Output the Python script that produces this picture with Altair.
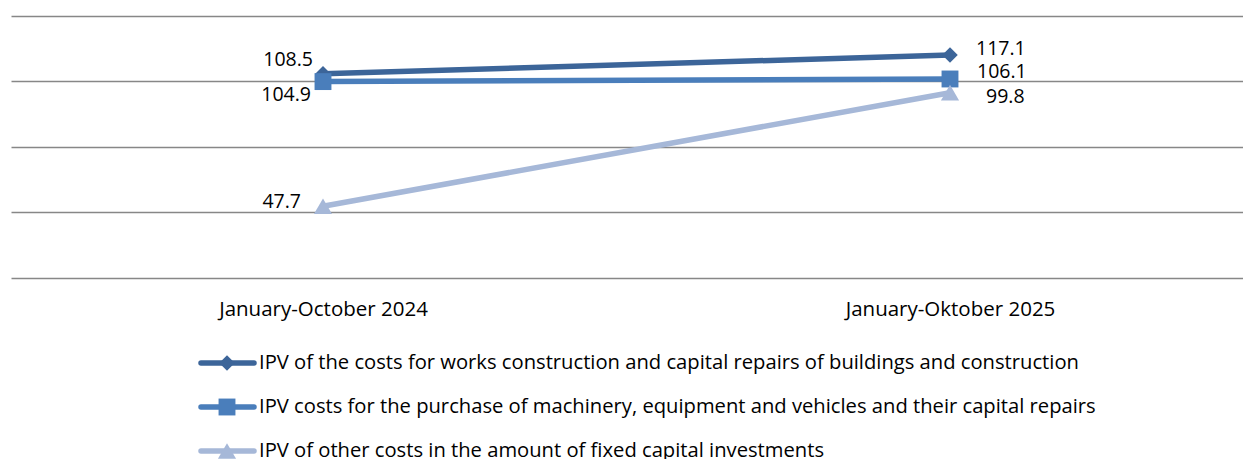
import altair as alt
import pandas as pd

categories = ["January-October 2024", "January-Oktober 2025"]
series_names = [
    "IPV of the costs for works construction and capital repairs of buildings and construction",
    "IPV costs for the purchase of machinery, equipment and vehicles and their capital repairs",
    "IPV of other costs in the amount of fixed capital investments",
]
works_values = [108.5, 117.1]
machinery_values = [104.9, 106.1]
other_values = [47.7, 99.8]

rows = []
for s_i, (name, vals) in enumerate(zip(series_names, [works_values, machinery_values, other_values])):
    for c_i, v in enumerate(vals):
        rows.append({"series": name, "s": s_i, "idx": c_i, "period": categories[c_i], "value": v})
df = pd.DataFrame(rows)
legend_df = pd.DataFrame({"series": series_names})

FONT = "Open Sans"
colors = ["#3C6599", "#4A7EBB", "#A6B8D8"]
shapes = ["diamond", "square", "triangle-up"]

color_scale = alt.Scale(domain=series_names, range=colors)
shape_scale = alt.Scale(domain=series_names, range=shapes)

label_expr = "[" + ",".join("'" + c + "'" for c in categories) + "][datum.value]"

x_enc = alt.X(
    "idx:Q",
    scale=alt.Scale(domain=[-0.4976, 1.4673], nice=False, zero=False),
    axis=alt.Axis(values=[0, 1], labelExpr=label_expr, grid=False, ticks=False, domain=False,
                  title=None, labelPadding=22, labelFontSize=20.5, labelFont=FONT, labelLimit=0,
                  labelColor="black", labelFlush=False, labelOverlap=False),
)
y_enc = alt.Y(
    "value:Q",
    scale=alt.Scale(domain=[15, 135], nice=False, zero=False),
    axis=alt.Axis(values=[15, 45, 75, 105, 135], labels=False, ticks=False, domain=False,
                  title=None, grid=True, gridColor="#878787", gridWidth=1.6),
)

base = alt.Chart(df).encode(x=x_enc, y=y_enc)

lines = base.mark_line(strokeWidth=5.5).encode(
    color=alt.Color("series:N", scale=color_scale, legend=None),
    detail="series:N",
)
points = base.mark_point(filled=True, opacity=1).encode(
    color=alt.Color("series:N", scale=color_scale, legend=None),
    shape=alt.Shape("series:N", scale=shape_scale, legend=None),
    size=alt.Size("series:N", scale=alt.Scale(domain=series_names, range=[240, 330, 340]), legend=None),
    order=alt.Order("s:Q"),
)

# label placement (style): (series index, category index) -> (align, dx, dy)
label_style = {
    (0, 0): ("right", -10, -14),
    (1, 0): ("right", -12, 13),
    (2, 0): ("right", -22, -4),
    (0, 1): ("left", 26, -6),
    (1, 1): ("left", 27, -7),
    (2, 1): ("left", 36, 4),
}
label_layers = []
for (s_i, c_i), (al, dx, dy) in label_style.items():
    label_layers.append(
        base.transform_filter(f"datum.s == {s_i} && datum.idx == {c_i}")
        .mark_text(align=al, baseline="middle", dx=dx, dy=dy, fontSize=19.5, font=FONT, color="black")
        .encode(text=alt.Text("value:Q", format=".1f"))
    )

main = alt.layer(lines, points, *label_layers).properties(width=1232, height=261.5)

leg_y = alt.Y("series:N", sort=series_names, scale=alt.Scale(type="point", padding=0.5), axis=None)
leg_base = alt.Chart(legend_df).encode(y=leg_y)
leg_rule = leg_base.mark_rule(strokeWidth=5.5, strokeCap="round").encode(
    x=alt.value(190), x2=alt.value(243),
    color=alt.Color("series:N", scale=color_scale, legend=None),
)
leg_pt = leg_base.mark_point(filled=True, opacity=1).encode(
    x=alt.value(216),
    color=alt.Color("series:N", scale=color_scale, legend=None),
    shape=alt.Shape("series:N", scale=shape_scale, legend=None),
    size=alt.Size("series:N", scale=alt.Scale(domain=series_names, range=[80, 125, 110]), legend=None),
)
leg_txt = leg_base.mark_text(align="left", baseline="middle", fontSize=20.2, font=FONT, color="black").encode(
    x=alt.value(248), text="series:N"
)
legend = alt.layer(leg_rule, leg_pt, leg_txt).properties(width=1232, height=132)

chart = alt.vconcat(main, legend, spacing=21).properties(
    padding={"left": 3, "top": 8, "right": 0, "bottom": 0},
    background="white",
).configure_view(stroke=None)

chart.save("out.html", embed_options={"renderer": "svg", "actions": False})
